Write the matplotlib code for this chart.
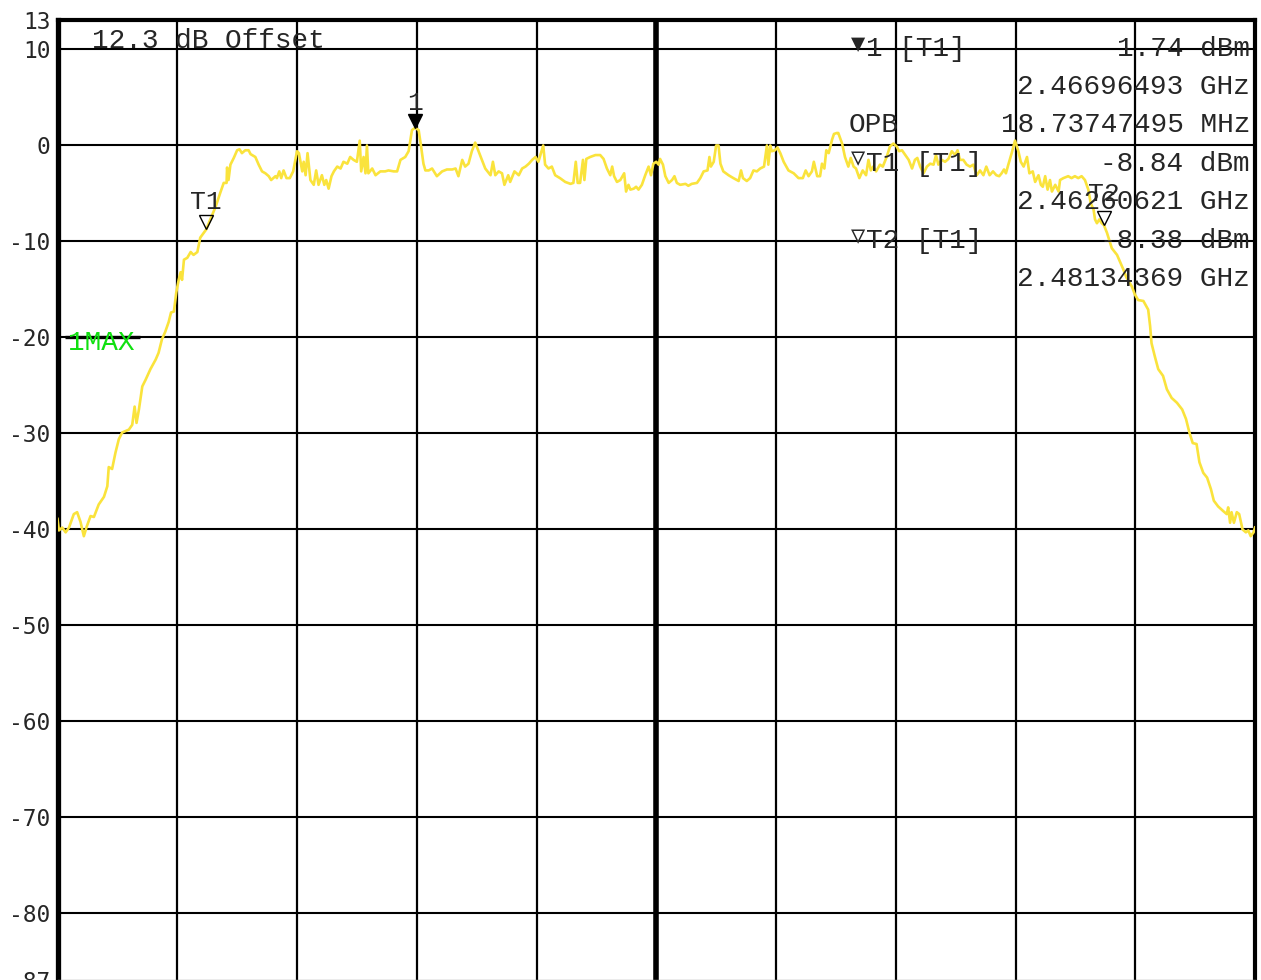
import matplotlib
matplotlib.use("Agg")
import matplotlib.pyplot as plt
from matplotlib.transforms import offset_copy

# ---- sweep / display settings -------------------------------------------
center_mhz = 2472.0
span_mhz = 25.0
ref_top_db = 13.0
ref_bottom_db = -87.0
ref_offset_db = 12.3

# ---- trace 1 (max hold), frequency in MHz, level in dBm --------------------
trace_freq_mhz = [
    2459.50, 2459.53, 2459.60, 2459.67, 2459.74, 2459.84, 2459.91, 2459.98,
    2460.05, 2460.11, 2460.19, 2460.26, 2460.36, 2460.47, 2460.54, 2460.57,
    2460.64, 2460.71, 2460.78, 2460.85, 2460.99, 2461.06, 2461.11, 2461.15,
    2461.20, 2461.27, 2461.34, 2461.44, 2461.55, 2461.61, 2461.68, 2461.75,
    2461.82, 2461.87, 2461.93, 2461.98, 2462.03, 2462.07, 2462.10, 2462.14,
    2462.21, 2462.28, 2462.34, 2462.42, 2462.48, 2462.606, 2462.69, 2462.80,
    2462.90, 2462.97, 2463.03, 2463.04, 2463.07, 2463.11, 2463.18, 2463.25,
    2463.30, 2463.35, 2463.42, 2463.49, 2463.53, 2463.63, 2463.70, 2463.77,
    2463.84, 2463.91, 2463.96, 2464.05, 2464.08, 2464.13, 2464.17, 2464.22,
    2464.28, 2464.35, 2464.42, 2464.50, 2464.54, 2464.61, 2464.64, 2464.68,
    2464.72, 2464.78, 2464.85, 2464.90, 2464.95, 2465.02, 2465.07, 2465.11,
    2465.16, 2465.22, 2465.27, 2465.34, 2465.41, 2465.47, 2465.55, 2465.61,
    2465.68, 2465.75, 2465.81, 2465.84, 2465.89, 2465.93, 2465.96, 2465.99,
    2466.07, 2466.14, 2466.24, 2466.34, 2466.41, 2466.52, 2466.59, 2466.66,
    2466.76, 2466.83, 2466.90, 2466.965, 2467.04, 2467.09, 2467.14, 2467.18,
    2467.25, 2467.32, 2467.42, 2467.53, 2467.63, 2467.74, 2467.81, 2467.87,
    2467.95, 2468.01, 2468.08, 2468.15, 2468.22, 2468.29, 2468.36, 2468.43,
    2468.54, 2468.59, 2468.64, 2468.71, 2468.78, 2468.83, 2468.91, 2468.95,
    2469.04, 2469.13, 2469.20, 2469.27, 2469.34, 2469.41, 2469.48, 2469.54,
    2469.64, 2469.68, 2469.75, 2469.82, 2469.89, 2469.99, 2470.10, 2470.21,
    2470.27, 2470.32, 2470.36, 2470.41, 2470.47, 2470.50, 2470.54, 2470.62,
    2470.73, 2470.83, 2470.90, 2470.97, 2471.04, 2471.08, 2471.12, 2471.18,
    2471.25, 2471.33, 2471.37, 2471.42, 2471.46, 2471.53, 2471.58, 2471.63,
    2471.70, 2471.77, 2471.84, 2471.89, 2471.94, 2472.00, 2472.05, 2472.08,
    2472.14, 2472.19, 2472.26, 2472.33, 2472.38, 2472.43, 2472.50, 2472.61,
    2472.67, 2472.74, 2472.85, 2472.92, 2472.99, 2473.07, 2473.11, 2473.14,
    2473.20, 2473.25, 2473.30, 2473.34, 2473.40, 2473.51, 2473.61, 2473.72,
    2473.77, 2473.81, 2473.89, 2473.96, 2474.03, 2474.10, 2474.17, 2474.25,
    2474.31, 2474.34, 2474.38, 2474.41, 2474.48, 2474.53, 2474.59, 2474.66,
    2474.76, 2474.87, 2474.97, 2475.06, 2475.12, 2475.18, 2475.25, 2475.29,
    2475.36, 2475.42, 2475.46, 2475.51, 2475.55, 2475.60, 2475.67, 2475.71,
    2475.77, 2475.80, 2475.88, 2475.94, 2476.01, 2476.06, 2476.12, 2476.17,
    2476.24, 2476.31, 2476.38, 2476.43, 2476.48, 2476.53, 2476.59, 2476.67,
    2476.73, 2476.81, 2476.88, 2476.95, 2477.02, 2477.07, 2477.13, 2477.20,
    2477.27, 2477.34, 2477.40, 2477.45, 2477.51, 2477.58, 2477.65, 2477.72,
    2477.79, 2477.84, 2477.89, 2477.96, 2478.03, 2478.10, 2478.17, 2478.24,
    2478.29, 2478.34, 2478.41, 2478.48, 2478.55, 2478.62, 2478.69, 2478.76,
    2478.83, 2478.89, 2478.96, 2479.03, 2479.10, 2479.16, 2479.21, 2479.26,
    2479.30, 2479.35, 2479.42, 2479.49, 2479.56, 2479.61, 2479.67, 2479.74,
    2479.79, 2479.86, 2479.91, 2479.98, 2480.03, 2480.07, 2480.12, 2480.17,
    2480.22, 2480.26, 2480.33, 2480.40, 2480.43, 2480.50, 2480.60, 2480.67,
    2480.74, 2480.81, 2480.88, 2480.95, 2481.02, 2481.07, 2481.13, 2481.16,
    2481.20, 2481.25, 2481.30, 2481.344, 2481.41, 2481.48, 2481.51, 2481.62,
    2481.68, 2481.75, 2481.82, 2481.93, 2481.99, 2482.06, 2482.17, 2482.27,
    2482.31, 2482.34, 2482.41, 2482.48, 2482.58, 2482.66, 2482.76, 2482.87,
    2482.98, 2483.06, 2483.13, 2483.20, 2483.28, 2483.34, 2483.42, 2483.50,
    2483.58, 2483.64, 2483.73, 2483.84, 2483.91, 2483.94, 2483.98, 2484.01,
    2484.06, 2484.12, 2484.17, 2484.24, 2484.31, 2484.36, 2484.41, 2484.47,
    2484.50,
]
trace_level_dbm = [
    -39.0, -40.2, -39.9, -40.4, -39.9, -38.5, -38.3, -39.3,
    -40.8, -39.8, -38.7, -38.8, -37.5, -36.7, -35.6, -33.6,
    -33.8, -32.1, -30.7, -30.0, -29.7, -29.2, -27.3, -29.0,
    -27.6, -25.2, -24.5, -23.4, -22.4, -21.7, -20.3, -19.5,
    -18.5, -17.5, -17.4, -15.4, -14.1, -13.3, -14.1, -12.0,
    -11.8, -11.2, -11.5, -11.2, -9.7, -8.84, -7.8, -6.5,
    -5.0, -4.0, -4.0, -2.4, -3.7, -2.1, -1.4, -0.6,
    -0.5, -0.9, -0.6, -0.6, -1.0, -1.3, -2.1, -2.8,
    -3.0, -3.3, -3.7, -3.3, -3.5, -2.8, -3.5, -2.7,
    -3.5, -3.5, -2.8, -0.7, -0.9, -2.8, -1.8, -3.2,
    -0.9, -3.7, -4.2, -2.7, -4.2, -3.2, -4.2, -3.7,
    -4.6, -3.3, -2.8, -2.3, -2.5, -1.8, -2.0, -1.3,
    -1.6, -1.8, 0.4, -2.8, -1.3, -3.0, -0.1, -3.0,
    -2.5, -3.2, -2.8, -2.8, -2.7, -2.8, -2.8, -1.6,
    -1.3, -0.7, 1.5, 1.74, 1.5, -0.2, -2.0, -2.7,
    -2.7, -2.5, -3.3, -2.8, -2.6, -2.6, -2.5, -3.3,
    -1.6, -2.3, -2.0, -0.7, 0.2, -0.7, -1.6, -2.5,
    -3.2, -1.8, -3.2, -2.8, -3.0, -4.2, -3.2, -3.9,
    -2.8, -3.2, -2.5, -2.3, -2.0, -1.6, -1.3, -1.8,
    -0.1, -2.1, -2.5, -2.3, -3.2, -3.5, -3.9, -4.1,
    -4.0, -1.8, -4.0, -4.0, -1.6, -3.7, -1.5, -1.3,
    -1.1, -1.1, -1.5, -2.5, -3.2, -2.3, -3.3, -3.9,
    -3.7, -3.0, -4.9, -4.2, -4.7, -4.6, -4.4, -4.7,
    -4.2, -3.2, -2.3, -3.2, -2.0, -1.8, -2.1, -1.5,
    -2.1, -3.3, -4.0, -3.7, -3.3, -4.0, -4.2, -4.1,
    -4.3, -4.1, -4.0, -3.5, -2.8, -2.7, -1.3, -2.3,
    -1.8, -0.1, -0.1, -2.0, -2.8, -3.2, -3.5, -3.8,
    -2.7, -3.5, -3.8, -3.5, -2.7, -2.8, -2.5, -2.3,
    -0.1, -2.1, -0.1, -0.7, -0.6, -0.3, -0.9, -1.8,
    -2.7, -3.0, -3.5, -3.5, -2.7, -3.3, -2.8, -1.8,
    -3.3, -3.3, -2.0, -2.5, -0.6, -0.9, 0.5, 1.1,
    1.2, 1.2, 0.1, -1.3, -2.3, -1.4, -2.3, -2.5,
    -3.5, -2.7, -3.2, -1.6, -2.7, -2.3, -2.8, -2.1,
    -2.3, -1.3, -0.2, 0.1, -0.2, -0.7, -0.6, -1.1,
    -1.6, -2.5, -1.6, -1.4, -2.3, -3.0, -2.3, -2.0,
    -2.1, -1.1, -2.1, -1.6, -1.8, -1.5, -0.7, -1.1,
    -0.6, -1.6, -1.6, -2.1, -2.3, -2.1, -3.2, -2.7,
    -3.2, -2.3, -3.2, -2.8, -3.2, -3.3, -3.0, -2.6,
    -3.0, -2.1, -0.9, 0.4, -0.7, -1.8, -2.3, -1.3,
    -3.0, -2.8, -3.9, -3.2, -4.2, -4.4, -3.3, -4.7,
    -3.7, -4.9, -4.2, -4.9, -3.7, -3.5, -3.3, -3.5,
    -3.3, -3.5, -3.3, -3.7, -4.7, -6.1, -6.8, -7.8,
    -8.2, -7.8, -8.2, -8.38, -9.2, -10.3, -10.8, -11.5,
    -12.2, -13.0, -13.9, -14.8, -15.6, -16.2, -16.3, -17.2,
    -18.9, -20.7, -22.1, -23.4, -24.1, -25.5, -26.4, -26.9,
    -27.6, -28.6, -30.0, -31.1, -31.2, -33.1, -34.2, -34.7,
    -35.9, -37.1, -37.7, -38.2, -38.5, -37.8, -39.4, -38.3,
    -39.4, -38.3, -38.5, -40.1, -40.4, -40.2, -40.8, -40.4,
    -39.9,
]

# ---- markers ----------------------------------------------------------------
marker_names = ["1", "T1", "T2"]
marker_freq_mhz = [2466.96493, 2462.60621, 2481.34369]
marker_level_dbm = [1.74, -8.84, -8.38]
marker_filled = [True, False, False]
obw_mhz = 18.73747495

# ---- level axis ----------------------------------------------------------------
y_ticks = [13, 10, 0, -10, -20, -30, -40, -50, -60, -70, -80, -87]
y_tick_labels = ["13", "10", "0", "-10", "-20", "-30", "-40", "-50",
                 "-60", "-70", "-80", "-87"]
grid_levels = [10, 0, -10, -20, -30, -40, -50, -60, -70, -80]

# ---- style ------------------------------------------------------------------
W, H = 1261, 980
DPI = 100
ink = "#262626"
trace_color = "#FAE33C"
label_green = "#10E010"
mono = ["Liberation Mono", "DejaVu Sans Mono", "DejaVu Sans"]
readout_size = 20.0
axis_label_size = 16.5

fig = plt.figure(figsize=(W / DPI, H / DPI), dpi=DPI, facecolor="white")
ax = fig.add_axes([57.5 / W, 0.0003, 1197.5 / W, 960.0 / H])
ax.set_facecolor("white")

f_start = center_mhz - span_mhz / 2
f_stop = center_mhz + span_mhz / 2
ax.set_xlim(f_start, f_stop)
ax.set_ylim(ref_bottom_db, ref_top_db)

# graticule: 10 x 10 divisions, thicker center line
div_freqs = [f_start + span_mhz / 10 * k for k in range(11)]
for f in div_freqs[1:-1]:
    lw = 4.0 if abs(f - center_mhz) < 1e-6 else 1.6
    ax.axvline(f, color="black", lw=lw, zorder=1)
for lv in grid_levels:
    ax.axhline(lv, color="black", lw=1.5, zorder=1)

ax.set_xticks([])
ax.set_yticks(y_ticks)
ax.set_yticklabels(y_tick_labels, family=mono[1:], fontsize=axis_label_size,
                   color=ink)
ax.tick_params(axis="y", length=0, pad=5)

for side, lw in (("left", 3.8), ("right", 3.0), ("top", 3.0)):
    ax.spines[side].set_linewidth(lw)
    ax.spines[side].set_color("black")
ax.spines["bottom"].set_color("#9a9a9a")
ax.spines["bottom"].set_linewidth(1.0)

# trace
ax.plot(trace_freq_mhz, trace_level_dbm, color=trace_color, lw=1.9,
        solid_joinstyle="round", zorder=3, clip_on=True)

# marker symbols sit with their tip on the trace
tri_pts = 10.5
tip_tf = offset_copy(ax.transData, fig=fig, x=0, y=tri_pts / 2, units="points")
label_offsets = [18, 20, 22]
for name, fm, lv, filled, dy in zip(marker_names, marker_freq_mhz,
                                    marker_level_dbm, marker_filled,
                                    label_offsets):
    ax.plot([fm], [lv], marker="v", ms=tri_pts, transform=tip_tf,
            mfc="black" if filled else "none", mec="black", mew=1.0,
            ls="none", zorder=5)
    ax.annotate(name, (fm, lv), xytext=(0, dy), textcoords="offset points",
                ha="center", va="center", family=mono,
                fontsize=readout_size - 1, color=ink, zorder=6)

yt = ax.get_yaxis_transform()

# reference offset note and trace mode
ax.text(0.0288, 10.75, f"{ref_offset_db} dB Offset", transform=yt,
        ha="left", va="center", family=mono, fontsize=readout_size, color=ink,
        zorder=6)
ax.plot([0.0063, 0.0690], [-20, -20], transform=yt, color="black", lw=2.4,
        solid_capstyle="butt", zorder=2)
ax.text(0.0088, -20.7, "1MAX", transform=yt,
        ha="left", va="center", family=mono, fontsize=readout_size,
        color=label_green, zorder=6)

# marker readout block
x_right = 0.9958
x_left = 0.6755
row_db = [10.0, 6.0, 2.0, -2.0, -6.0, -10.0, -14.0]


def readout(row, txt, x, ha):
    ax.text(x, row_db[row], txt, transform=yt, ha=ha, va="center",
            family=mono, fontsize=readout_size, color=ink, zorder=6)


readout(0, f"{marker_names[0]} [T1]", x_left, "left")
readout(0, f"{marker_level_dbm[0]:.2f} dBm", x_right, "right")
readout(1, f"{marker_freq_mhz[0] / 1000:.8f} GHz", x_right, "right")
readout(2, "OPB", 0.6608, "left")
readout(2, f"{obw_mhz:.8f} MHz", x_right, "right")
readout(3, f"{marker_names[1]} [T1]", x_left, "left")
readout(3, f"{marker_level_dbm[1]:.2f} dBm", x_right, "right")
readout(4, f"{marker_freq_mhz[1] / 1000:.8f} GHz", x_right, "right")
readout(5, f"{marker_names[2]} [T1]", x_left, "left")
readout(5, f"{marker_level_dbm[2]:.2f} dBm", x_right, "right")
readout(6, f"{marker_freq_mhz[2] / 1000:.8f} GHz", x_right, "right")

# marker-type symbols in front of the readout rows
sym_x = 0.6685
ax.text(sym_x, 10.45, "\u25BC", transform=yt, ha="center", va="center",
        family=mono[1:], fontsize=17, color=ink, zorder=6)
ax.text(sym_x, -1.4, "\u25BD", transform=yt, ha="center", va="center",
        family=mono[1:], fontsize=17, color=ink, zorder=6)
ax.text(sym_x, -9.5, "\u25BD", transform=yt, ha="center", va="center",
        family=mono[1:], fontsize=17, color=ink, zorder=6)

fig.savefig("out.png", dpi=DPI, facecolor="white")
